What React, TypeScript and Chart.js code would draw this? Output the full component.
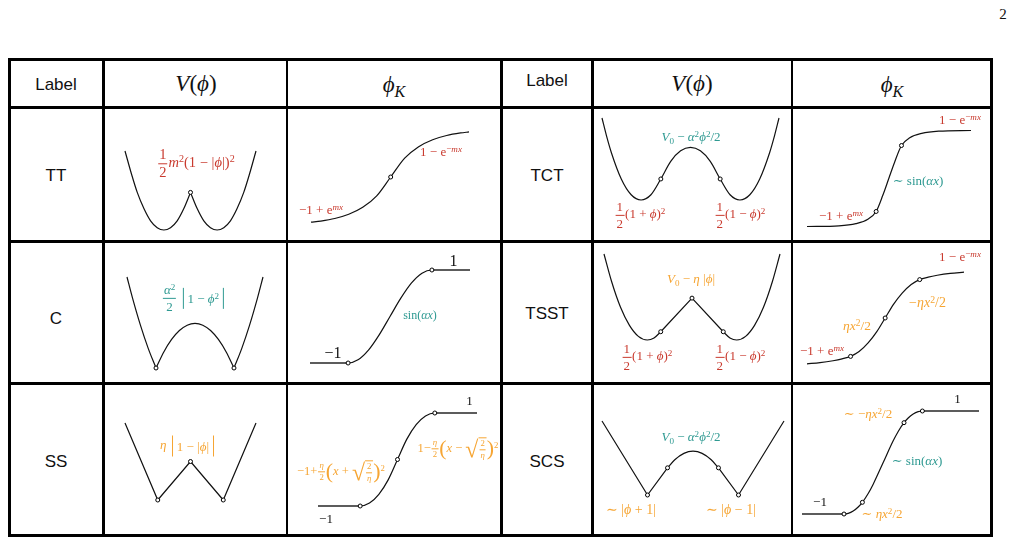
import React, { useEffect, useRef } from "react";
import { Chart, registerables } from "chart.js";
Chart.register(...registerables);

const RED = "#c93a2e";
const TEAL = "#2f9a92";
const ORANGE = "#f6a533";
const INK = "#111111";
const FLAT = "#5c5c5c";
const SERIF = "'Liberation Serif', 'DejaVu Serif', serif";
const SANS = "'Liberation Sans', Arial, sans-serif";

// ---------- row labels
const leftRowLabels = ["TT", "C", "SS"];
const rightRowLabels = ["TCT", "TSST", "SCS"];

// ---------- TT : V(phi)
const ttPhiL = [-2.46, -2.2, -2, -1.75, -1.5, -1.25, -1, -0.75, -0.5, -0.25, 0];
const ttVL = [1.03, 0.71, 0.49, 0.28, 0.12, 0.03, 0, 0.03, 0.12, 0.28, 0.49];
const ttPhiR = [0, 0.25, 0.5, 0.75, 1, 1.25, 1.5, 1.75, 2, 2.2, 2.46];
const ttVR = [0.49, 0.28, 0.12, 0.03, 0, 0.03, 0.12, 0.28, 0.49, 0.71, 1.03];
const ttMarkPhi = [0];
const ttMarkV = [0.49];
// TT : kink
const ttKX = [-2.85, -2.5, -2, -1.5, -1, -0.5, 0, 0.5, 1, 1.5, 2, 2.5, 2.8];
const ttKPhi = [-0.942, -0.918, -0.865, -0.777, -0.632, -0.393, 0, 0.393, 0.632, 0.777, 0.865, 0.918, 0.939];
const ttKMarkX = [0];
const ttKMarkPhi = [0];

// ---------- TCT : V(phi)
const tctPhi = [-1.79, -1.7, -1.6, -1.4, -1.2, -1, -0.8, -0.6, -0.4, -0.2, 0, 0.2, 0.4, 0.6, 0.8, 1, 1.2, 1.4, 1.6, 1.7, 1.79];
const tctV = [0.312, 0.245, 0.18, 0.08, 0.02, 0, 0.02, 0.08, 0.147, 0.187, 0.2, 0.187, 0.147, 0.08, 0.02, 0, 0.02, 0.08, 0.18, 0.245, 0.312];
const tctMarkPhi = [-0.6, 0.6];
const tctMarkV = [0.08, 0.08];
// TCT : kink
const tctKX = [-8.2, -5, -3.3, -2.1, -1.27, -0.6, 0, 0.6, 1.27, 2.1, 3.3, 5, 8.24];
const tctKPhi = [-0.99, -0.975, -0.93, -0.84, -0.68, -0.346, 0, 0.346, 0.68, 0.84, 0.93, 0.975, 0.99];
const tctKMarkX = [-1.27, 1.27];
const tctKMarkPhi = [-0.68, 0.68];

// ---------- C : V(phi)
const cPhiL = [-1.744, -1.6, -1.4, -1.2, -1];
const cVL = [1.02, 0.78, 0.48, 0.22, 0];
const cPhiM = [-1, -0.8, -0.6, -0.4, -0.2, 0, 0.2, 0.4, 0.6, 0.8, 1];
const cVM = [0, 0.18, 0.32, 0.42, 0.48, 0.5, 0.48, 0.42, 0.32, 0.18, 0];
const cPhiR = [1, 1.2, 1.4, 1.6, 1.744];
const cVR = [0, 0.22, 0.48, 0.78, 1.02];
const cMarkPhi = [-1, 1];
const cMarkV = [0, 0];
// C : kink
const cKFlatLX = [-3, -1.571];
const cKFlatLPhi = [-1, -1];
const cKFlatRX = [1.571, 3];
const cKFlatRPhi = [1, 1];
const cKX = [-1.9, -1.571, -1.2, -0.8, -0.4, 0, 0.4, 0.8, 1.2, 1.571, 1.9];
const cKPhi = [-1, -1, -0.932, -0.717, -0.389, 0, 0.389, 0.717, 0.932, 1, 1];
const cKMarkX = [-1.571, 1.571];
const cKMarkPhi = [-1, 1];

// ---------- TSST : V(phi)
const tsPhiL = [-1.97, -1.8, -1.6, -1.4, -1.2, -1, -0.85, -0.7];
const tsVL = [1.0, 0.68, 0.38, 0.17, 0.042, 0, 0.024, 0.096];
const tsPhiM = [-0.7, 0, 0.7];
const tsVM = [0.096, 0.487, 0.096];
const tsPhiR = [0.7, 0.85, 1, 1.2, 1.4, 1.6, 1.8, 1.97];
const tsVR = [0.096, 0.024, 0, 0.042, 0.17, 0.38, 0.68, 1.0];
const tsMarkPhi = [-0.7, 0, 0.7];
const tsMarkV = [0.096, 0.487, 0.096];
// TSST : kink
const tsKX = [-7.8, -6.5, -5.2, -4.3, -3.45, -2.6, -1.7, -0.85, 0, 0.85, 1.7, 2.6, 3.45, 4.3, 5.2, 6.5, 7.87];
const tsKPhi = [-0.955, -0.93, -0.89, -0.851, -0.8, -0.7, -0.52, -0.29, 0, 0.29, 0.52, 0.7, 0.8, 0.851, 0.89, 0.93, 0.955];
const tsKMarkX = [-3.45, 0, 3.45];
const tsKMarkPhi = [-0.8, 0, 0.8];

// ---------- SS : V(phi)
const ssPhi = [-2, -1, 0, 1, 2];
const ssV = [1, 0, 0.5, 0, 1];
const ssMarkPhi = [-1, 0, 1];
const ssMarkV = [0, 0.5, 0];
// SS : kink
const ssKFlatLX = [-2.13, -1];
const ssKFlatLPhi = [-1, -1];
const ssKFlatRX = [1, 2.13];
const ssKFlatRPhi = [1, 1];
const ssKX = [-1.3, -1, -0.75, -0.5, -0.25, 0, 0.25, 0.5, 0.75, 1, 1.3];
const ssKPhi = [-1, -1, -0.9375, -0.75, -0.4375, 0, 0.4375, 0.75, 0.9375, 1, 1];
const ssKMarkX = [-1, 0, 1];
const ssKMarkPhi = [-1, 0, 1];

// ---------- SCS : V(phi)
const scPhiL = [-2, -1, -0.56];
const scVL = [1, 0, 0.367];
const scPhiM = [-0.56, -0.4, -0.2, 0, 0.2, 0.4, 0.56];
const scVM = [0.367, 0.477, 0.563, 0.592, 0.563, 0.477, 0.367];
const scPhiR = [0.56, 1, 2];
const scVR = [0.367, 0, 1];
const scMarkPhi = [-1, -0.56, 0.56, 1];
const scMarkV = [0, 0.367, 0.367, 0];
// SCS : kink
const scKFlatLX = [-8.12, -3.92];
const scKFlatLPhi = [-1, -1];
const scKFlatRX = [3.92, 9.58];
const scKFlatRPhi = [1, 1];
const scKX = [-4.4, -3.92, -3.5, -3, -2.5, -2.08, -1.5, -1, 0, 1, 1.5, 2.08, 2.5, 3, 3.5, 3.92, 4.4];
const scKPhi = [-1, -1, -0.988, -0.943, -0.865, -0.773, -0.603, -0.421, 0, 0.421, 0.603, 0.773, 0.865, 0.943, 0.988, 1, 1];
const scKMarkX = [-3.92, -2.08, 2.08, 3.92];
const scKMarkPhi = [-1, -0.773, 0.773, 1];

type Series = { xs: number[]; ys: number[]; color?: string; width?: number; smooth?: boolean };
type PlotProps = {
  box: [number, number, number, number];
  xr: [number, number];
  yr: [number, number];
  series: Series[];
  marks?: { xs: number[]; ys: number[] };
};

const PAD = 6;

function Plot({ box, xr, yr, series, marks }: PlotProps) {
  const ref = useRef<HTMLCanvasElement>(null);
  const [l, t, r, b] = box;
  useEffect(() => {
    const datasets: any[] = series.map((s) => ({
      data: s.xs.map((x, i) => ({ x, y: s.ys[i] })),
      showLine: true,
      pointRadius: 0,
      pointHoverRadius: 0,
      borderColor: s.color ?? INK,
      borderWidth: s.width ?? 1.2,
      cubicInterpolationMode: s.smooth ? "monotone" : "default",
      tension: 0,
      clip: false,
      order: 1,
    }));
    if (marks) {
      datasets.push({
        data: marks.xs.map((x, i) => ({ x, y: marks.ys[i] })),
        showLine: false,
        pointRadius: 2,
        pointHoverRadius: 2,
        pointBackgroundColor: "#ffffff",
        pointBorderColor: "#000000",
        pointBorderWidth: 1,
        clip: false,
        order: 0,
      });
    }
    const chart = new Chart(ref.current as HTMLCanvasElement, {
      type: "scatter",
      data: { datasets },
      options: {
        animation: false,
        responsive: false,
        devicePixelRatio: 1,
        events: [],
        layout: { padding: PAD },
        plugins: { legend: { display: false }, tooltip: { enabled: false } },
        scales: {
          x: { type: "linear", display: false, min: xr[0], max: xr[1] },
          y: { type: "linear", display: false, min: yr[0], max: yr[1] },
        },
      } as any,
    });
    return () => chart.destroy();
  }, []);
  return (
    <canvas
      ref={ref}
      width={Math.round(r - l + 2 * PAD)}
      height={Math.round(b - t + 2 * PAD)}
      style={{ position: "absolute", left: l - PAD, top: t - PAD }}
    />
  );
}

// ---------- text helpers
const Sup = ({ children }: any) => (
  <span style={{ fontSize: "0.7em", lineHeight: 0, position: "relative", top: "-0.45em" }}>{children}</span>
);
const Sub = ({ children }: any) => (
  <span style={{ fontSize: "0.7em", lineHeight: 0, position: "relative", top: "0.3em" }}>{children}</span>
);
const Frac = ({ n, d, s }: any) => (
  <span
    style={{
      display: "inline-flex",
      flexDirection: "column",
      alignItems: "center",
      verticalAlign: "middle",
      fontSize: s ?? "1em",
      lineHeight: 1.05,
      margin: "0 1px",
    }}
  >
    <span style={{ borderBottom: "1px solid currentColor", padding: "0 1px 1px" }}>{n}</span>
    <span style={{ paddingTop: 1 }}>{d}</span>
  </span>
);
const Bars = ({ children }: any) => (
  <span
    style={{
      display: "inline-block",
      borderLeft: "1px solid currentColor",
      borderRight: "1px solid currentColor",
      padding: "4px 4px",
      margin: "0 2px",
      verticalAlign: "middle",
      lineHeight: 1,
    }}
  >
    {children}
  </span>
);
const BigP = ({ c }: any) => (
  <span style={{ fontSize: "1.75em", lineHeight: 1, verticalAlign: "middle", fontWeight: 300 }}>{c}</span>
);
const Sqrt = ({ children }: any) => (
  <span style={{ display: "inline-flex", alignItems: "flex-end", verticalAlign: "middle" }}>
    <span style={{ fontSize: "1.9em", lineHeight: 0.95 }}>√</span>
    <span style={{ borderTop: "1px solid currentColor", paddingTop: 1 }}>{children}</span>
  </span>
);
const I = ({ children }: any) => <i>{children}</i>;

const Tx = ({ x, y, size = 13, color = INK, family = SERIF, children }: any) => (
  <div
    style={{
      position: "absolute",
      left: x,
      top: y,
      transform: "translate(-50%,-50%)",
      fontFamily: family,
      fontSize: size,
      color,
      whiteSpace: "nowrap",
      lineHeight: 1,
    }}
  >
    {children}
  </div>
);

const PHI = "\u03D5";
const Half = () => <Frac n="1" d="2" />;

// grid lines: [x or y, thickness]
const vLines: [number, number][] = [
  [9.5, 3],
  [103, 3],
  [286.5, 2],
  [501, 3],
  [592.5, 3],
  [792, 2],
  [991.5, 3],
];
const hLines: [number, number][] = [
  [59, 3],
  [107.5, 3],
  [241.5, 3],
  [383, 3],
  [535, 3],
];
const TOP = 57.5;
const BOTTOM = 536.5;
const LEFT = 8;
const RIGHT = 993;

export default function App() {
  return (
    <div
      style={{
        position: "absolute",
        left: 0,
        top: 0,
        width: 1014,
        height: 544,
        background: "#ffffff",
        overflow: "hidden",
      }}
    >
      {vLines.map(([x, w], i) => (
        <div
          key={"v" + i}
          style={{ position: "absolute", left: x - w / 2, top: TOP, width: w, height: BOTTOM - TOP, background: "#000" }}
        />
      ))}
      {hLines.map(([y, w], i) => (
        <div
          key={"h" + i}
          style={{ position: "absolute", left: LEFT, top: y - w / 2, width: RIGHT - LEFT, height: w, background: "#000" }}
        />
      ))}

      <Tx x={1003} y={14} size={15}>2</Tx>

      {/* header */}
      <Tx x={56} y={84} size={17} family={SANS}>Label</Tx>
      <Tx x={196} y={83} size={23}><I>V</I>(<I>{PHI}</I>)</Tx>
      <Tx x={394} y={84} size={23}><I>{PHI}</I><span style={{ fontSize: "0.7em", position: "relative", top: "0.3em" }}><I>K</I></span></Tx>
      <Tx x={547} y={80} size={17} family={SANS}>Label</Tx>
      <Tx x={692} y={83} size={23}><I>V</I>(<I>{PHI}</I>)</Tx>
      <Tx x={892} y={84} size={23}><I>{PHI}</I><span style={{ fontSize: "0.7em", position: "relative", top: "0.3em" }}><I>K</I></span></Tx>

      {/* row labels */}
      <Tx x={56} y={175} size={17} family={SANS}>{leftRowLabels[0]}</Tx>
      <Tx x={56} y={318} size={17} family={SANS}>{leftRowLabels[1]}</Tx>
      <Tx x={56} y={461} size={17} family={SANS}>{leftRowLabels[2]}</Tx>
      <Tx x={547} y={175} size={17} family={SANS}>{rightRowLabels[0]}</Tx>
      <Tx x={547} y={313} size={17} family={SANS}>{rightRowLabels[1]}</Tx>
      <Tx x={547} y={461} size={17} family={SANS}>{rightRowLabels[2]}</Tx>

      {/* ===== TT ===== */}
      <Plot
        box={[125, 151, 256, 230.3]}
        xr={[-2.46, 2.46]}
        yr={[0, 1.03]}
        series={[
          { xs: ttPhiL, ys: ttVL, smooth: true },
          { xs: ttPhiR, ys: ttVR, smooth: true },
        ]}
        marks={{ xs: ttMarkPhi, ys: ttMarkV }}
      />
      <Tx x={196} y={164} size={14.5} color={RED}>
        <Half /><I>m</I><Sup>2</Sup>(1 − |<I>{PHI}</I>|)<Sup>2</Sup>
      </Tx>
      <Plot
        box={[311, 129.3, 469.3, 225.3]}
        xr={[-2.85, 2.8]}
        yr={[-1, 1]}
        series={[{ xs: ttKX, ys: ttKPhi, smooth: true }]}
        marks={{ xs: ttKMarkX, ys: ttKMarkPhi }}
      />
      <Tx x={321} y={209} color={RED}>−1 + e<Sup><I>mx</I></Sup></Tx>
      <Tx x={441} y={151} color={RED}>1 − e<Sup>−<I>mx</I></Sup></Tx>

      {/* ===== TCT ===== */}
      <Plot
        box={[601.7, 118.3, 778.3, 200]}
        xr={[-1.79, 1.79]}
        yr={[0, 0.312]}
        series={[{ xs: tctPhi, ys: tctV, smooth: true }]}
        marks={{ xs: tctMarkPhi, ys: tctMarkV }}
      />
      <Tx x={691} y={136} color={TEAL}>
        <I>V</I><Sub>0</Sub> − <I>α</I><Sup>2</Sup><I>{PHI}</I><Sup>2</Sup>/2
      </Tx>
      <Tx x={640} y={215} color={RED}><Half />(1 + <I>{PHI}</I>)<Sup>2</Sup></Tx>
      <Tx x={740} y={215} color={RED}><Half />(1 − <I>{PHI}</I>)<Sup>2</Sup></Tx>
      <Plot
        box={[807.3, 129.5, 971.7, 226.5]}
        xr={[-8.2, 8.24]}
        yr={[-1, 1]}
        series={[{ xs: tctKX, ys: tctKPhi, smooth: true }]}
        marks={{ xs: tctKMarkX, ys: tctKMarkPhi }}
      />
      <Tx x={960} y={119} color={RED}>1 − e<Sup>−<I>mx</I></Sup></Tx>
      <Tx x={918} y={180} color={TEAL}>∼ sin(<I>αx</I>)</Tx>
      <Tx x={841} y={215} color={RED}>−1 + e<Sup><I>mx</I></Sup></Tx>

      {/* ===== C ===== */}
      <Plot
        box={[126.7, 277.3, 262.7, 368.7]}
        xr={[-1.744, 1.744]}
        yr={[0, 1.02]}
        series={[
          { xs: cPhiL, ys: cVL, smooth: true },
          { xs: cPhiM, ys: cVM, smooth: true },
          { xs: cPhiR, ys: cVR, smooth: true },
        ]}
        marks={{ xs: cMarkPhi, ys: cMarkV }}
      />
      <Tx x={194} y={298} color={TEAL}>
        <Frac n={<><I>α</I><Sup>2</Sup></>} d="2" /> <Bars>1 − <I>{PHI}</I><Sup>2</Sup></Bars>
      </Tx>
      <Plot
        box={[310, 269.7, 470, 363]}
        xr={[-3, 3]}
        yr={[-1, 1]}
        series={[
          { xs: cKFlatLX, ys: cKFlatLPhi, color: FLAT, width: 1.8 },
          { xs: cKFlatRX, ys: cKFlatRPhi, color: FLAT, width: 1.8 },
          { xs: cKX, ys: cKPhi, smooth: true },
        ]}
        marks={{ xs: cKMarkX, ys: cKMarkPhi }}
      />
      <Tx x={453.5} y={261} size={16}>1</Tx>
      <Tx x={333} y={353} size={16}>−1</Tx>
      <Tx x={420} y={315} size={12} color={TEAL}>sin(<I>αx</I>)</Tx>

      {/* ===== TSST ===== */}
      <Plot
        box={[604, 254, 780, 339.7]}
        xr={[-1.97, 1.97]}
        yr={[0, 1]}
        series={[
          { xs: tsPhiL, ys: tsVL, smooth: true },
          { xs: tsPhiM, ys: tsVM },
          { xs: tsPhiR, ys: tsVR, smooth: true },
        ]}
        marks={{ xs: tsMarkPhi, ys: tsMarkV }}
      />
      <Tx x={691} y={278} color={ORANGE}><I>V</I><Sub>0</Sub> − <I>η</I> |<I>{PHI}</I>|</Tx>
      <Tx x={647} y={357} color={RED}><Half />(1 + <I>{PHI}</I>)<Sup>2</Sup></Tx>
      <Tx x={740} y={357} color={RED}><Half />(1 − <I>{PHI}</I>)<Sup>2</Sup></Tx>
      <Plot
        box={[807.3, 270, 964, 366]}
        xr={[-7.8, 7.87]}
        yr={[-1, 1]}
        series={[{ xs: tsKX, ys: tsKPhi, smooth: true }]}
        marks={{ xs: tsKMarkX, ys: tsKMarkPhi }}
      />
      <Tx x={960} y={256} color={RED}>1 − e<Sup>−<I>mx</I></Sup></Tx>
      <Tx x={927.5} y={303} size={14} color={ORANGE}>−<I>ηx</I><Sup>2</Sup>/2</Tx>
      <Tx x={857} y={326} size={13.5} color={ORANGE}><I>ηx</I><Sup>2</Sup>/2</Tx>
      <Tx x={822} y={350} color={RED}>−1 + e<Sup><I>mx</I></Sup></Tx>

      {/* ===== SS ===== */}
      <Plot
        box={[125, 422.7, 256, 499.3]}
        xr={[-2, 2]}
        yr={[0, 1]}
        series={[{ xs: ssPhi, ys: ssV }]}
        marks={{ xs: ssMarkPhi, ys: ssMarkV }}
      />
      <Tx x={188} y={446} size={13} color={ORANGE}><I>η</I> <Bars>1 − |<I>{PHI}</I>|</Bars></Tx>
      <Plot
        box={[318.3, 412.7, 477.3, 505.3]}
        xr={[-2.13, 2.13]}
        yr={[-1, 1]}
        series={[
          { xs: ssKFlatLX, ys: ssKFlatLPhi, color: FLAT, width: 1.8 },
          { xs: ssKFlatRX, ys: ssKFlatRPhi, color: FLAT, width: 1.8 },
          { xs: ssKX, ys: ssKPhi, smooth: true },
        ]}
        marks={{ xs: ssKMarkX, ys: ssKMarkPhi }}
      />
      <Tx x={469.5} y={400} size={13}>1</Tx>
      <Tx x={326} y={518} size={13}>−1</Tx>
      <Tx x={341} y={472} size={12.5} color={ORANGE}>
        −1+<Frac n={<I>η</I>} d="2" s="0.7em" /><BigP c="(" /><I>x</I> + <Sqrt><Frac n="2" d={<I>η</I>} s="0.7em" /></Sqrt><BigP c=")" /><Sup>2</Sup>
      </Tx>
      <Tx x={458} y={449} size={12.5} color={ORANGE}>
        1−<Frac n={<I>η</I>} d="2" s="0.7em" /><BigP c="(" /><I>x</I> − <Sqrt><Frac n="2" d={<I>η</I>} s="0.7em" /></Sqrt><BigP c=")" /><Sup>2</Sup>
      </Tx>

      {/* ===== SCS ===== */}
      <Plot
        box={[601.7, 420.7, 783.3, 495]}
        xr={[-2, 2]}
        yr={[0, 1]}
        series={[
          { xs: scPhiL, ys: scVL },
          { xs: scPhiM, ys: scVM, smooth: true },
          { xs: scPhiR, ys: scVR },
        ]}
        marks={{ xs: scMarkPhi, ys: scMarkV }}
      />
      <Tx x={691} y={436} color={TEAL}>
        <I>V</I><Sub>0</Sub> − <I>α</I><Sup>2</Sup><I>{PHI}</I><Sup>2</Sup>/2
      </Tx>
      <Tx x={631} y={510} size={14} color={ORANGE}>∼ |<I>{PHI}</I> + 1|</Tx>
      <Tx x={731} y={510} size={14} color={ORANGE}>∼ |<I>{PHI}</I> − 1|</Tx>
      <Plot
        box={[802.3, 410.7, 979.3, 514]}
        xr={[-8.12, 9.58]}
        yr={[-1, 1]}
        series={[
          { xs: scKFlatLX, ys: scKFlatLPhi, color: FLAT, width: 1.8 },
          { xs: scKFlatRX, ys: scKFlatRPhi, color: FLAT, width: 1.8 },
          { xs: scKX, ys: scKPhi, smooth: true },
        ]}
        marks={{ xs: scKMarkX, ys: scKMarkPhi }}
      />
      <Tx x={957.5} y={398} size={13}>1</Tx>
      <Tx x={820} y={501} size={13}>−1</Tx>
      <Tx x={868} y={413} color={ORANGE}>∼ −<I>ηx</I><Sup>2</Sup>/2</Tx>
      <Tx x={917} y={460} color={TEAL}>∼ sin(<I>αx</I>)</Tx>
      <Tx x={882} y={513} color={ORANGE}>∼ <I>ηx</I><Sup>2</Sup>/2</Tx>
    </div>
  );
}
